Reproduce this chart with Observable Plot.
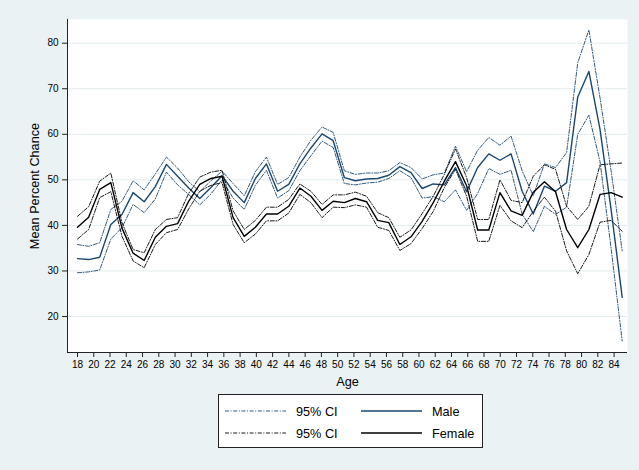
<!DOCTYPE html>
<html><head><meta charset="utf-8">
<script src="https://cdn.jsdelivr.net/npm/d3@7"></script>
<script src="https://cdn.jsdelivr.net/npm/@observablehq/plot@0.6"></script>
<style>
body{margin:0;background:#eaf2f3;font-family:"Liberation Sans",Arial,sans-serif;}
#wrap{position:relative;width:639px;height:470px;overflow:hidden;}
#chart{position:absolute;left:0;top:0;}
#legend{position:absolute;left:218px;top:394px;width:265px;height:54px;background:#fff;border:1px solid #222;box-sizing:border-box;}
</style></head><body><div id="wrap"><div id="chart"></div><div id="legend"></div></div>
<script>
const ages = [18, 19.37, 20.73, 22.1, 23.47, 24.84, 26.2, 27.57, 28.94, 30.31,
  31.67, 33.04, 34.41, 35.78, 37.14, 38.51, 39.88, 41.24, 42.61, 43.98,
  45.35, 46.71, 48.08, 49.45, 50.82, 52.18, 53.55, 54.92, 56.29, 57.65,
  59.02, 60.39, 61.76, 63.12, 64.49, 65.86, 67.22, 68.59, 69.96, 71.33,
  72.69, 74.06, 75.43, 76.8, 78.16, 79.53, 80.9, 82.27, 83.63, 85];

const female = [39.6, 41.8, 47.9, 49.4, 39.4, 33.9, 32.3, 37.4, 39.8, 40.4,
  45.3, 49.0, 50.3, 50.8, 41.7, 37.6, 39.6, 42.5, 42.5, 44.2,
  48.2, 46.4, 43.3, 45.3, 45.0, 45.9, 45.2, 41.1, 40.6, 35.8,
  37.5, 40.9, 45.0, 49.7, 54.0, 48.7, 39.0, 39.0, 47.2, 43.2,
  42.2, 47.3, 49.6, 47.4, 39.1, 35.1, 39.1, 46.8, 47.2, 46.2];
const femaleHi = [42.0, 44.1, 49.7, 51.5, 40.6, 34.7, 34.0, 39.1, 41.3, 41.7,
  47.0, 50.6, 51.7, 52.1, 43.2, 39.1, 41.1, 44.0, 44.0, 45.7,
  49.1, 47.5, 44.6, 46.7, 46.7, 47.3, 46.4, 42.8, 41.7, 37.4,
  39.0, 42.6, 46.4, 51.2, 56.8, 50.5, 41.3, 41.3, 50.0, 45.5,
  45.0, 50.8, 53.3, 52.3, 44.2, 41.3, 44.2, 53.3, 53.5, 53.7];
const femaleLo = [37.0, 39.1, 46.1, 47.4, 37.6, 32.2, 30.7, 35.8, 38.4, 39.1,
  43.6, 47.5, 48.8, 49.4, 40.2, 36.2, 38.1, 41.0, 41.0, 42.7,
  46.8, 45.0, 41.7, 44.0, 43.9, 44.5, 44.0, 39.6, 38.9, 34.5,
  36.0, 39.3, 43.1, 48.3, 52.3, 46.4, 36.5, 36.5, 44.4, 41.0,
  39.5, 43.1, 46.2, 43.1, 34.4, 29.4, 33.6, 40.7, 41.1, 38.7];

const male = [32.7, 32.5, 33.0, 40.2, 42.4, 47.2, 45.2, 48.5, 53.4, 50.8,
  48.2, 45.9, 48.3, 50.9, 47.5, 45.0, 50.3, 53.5, 47.5, 49.0,
  53.5, 57.0, 60.1, 58.6, 50.5, 49.8, 50.2, 50.3, 51.0, 52.9,
  51.6, 48.1, 49.1, 48.9, 52.7, 47.4, 52.7, 55.7, 54.3, 55.7,
  47.5, 42.5, 48.6, 47.5, 49.4, 68.2, 73.8, 61.1, 43.5, 24.2];
const maleHi = [35.8, 35.4, 36.2, 43.5, 45.3, 49.8, 47.8, 51.3, 55.0, 52.6,
  49.6, 47.4, 49.8, 51.9, 49.2, 46.5, 51.8, 55.0, 49.0, 50.5,
  55.0, 58.7, 61.6, 60.4, 52.0, 51.2, 51.5, 51.5, 52.0, 53.8,
  52.7, 50.2, 51.1, 51.5, 57.4, 51.8, 56.5, 59.3, 57.6, 59.6,
  52.0, 46.5, 53.5, 52.7, 56.0, 75.7, 82.9, 68.0, 52.0, 34.4];
const maleLo = [29.6, 29.8, 30.2, 37.0, 39.5, 44.6, 42.8, 45.8, 51.7, 48.9,
  46.8, 44.5, 46.9, 50.0, 46.0, 43.5, 48.8, 52.1, 46.0, 47.6,
  52.0, 55.3, 58.5, 57.1, 49.2, 48.9, 49.3, 49.5, 50.3, 52.0,
  50.5, 46.0, 46.3, 45.2, 47.8, 43.3, 47.0, 52.5, 51.2, 52.1,
  42.5, 38.6, 44.2, 42.4, 44.0, 60.0, 64.2, 54.0, 35.0, 14.6];

const xTicks = [18,20,22,24,26,28,30,32,34,36,38,40,42,44,46,48,50,52,54,56,58,60,62,64,66,68,70,72,74,76,78,80,82,84];
const yTicks = [20,30,40,50,60,70,80];
const legendLabels = ["95% CI", "Male", "95% CI", "Female"];

const BLUE = "#1a476f";
const DASH = "4,1.6,1,1.6";
const rows = vals => ages.map((a, i) => ({age: a, value: vals[i]}));
const xDomain = [16.77, 85.65];
const yDomain = [12.1, 85.2];

const chart = Plot.plot({
  width: 639, height: 390,
  marginLeft: 67, marginRight: 12, marginTop: 19, marginBottom: 38,
  style: {fontFamily: '"Liberation Sans", Arial, sans-serif', fontSize: "10px", background: "transparent", color: "#000"},
  x: {domain: xDomain},
  y: {domain: yDomain},
  marks: [
    Plot.frame({fill: "white", stroke: "none"}),
    Plot.gridY(yTicks, {stroke: "#e3ecee", strokeOpacity: 1, strokeWidth: 1}),
    Plot.line(rows(maleHi), {x: "age", y: "value", stroke: BLUE, strokeWidth: 0.9, strokeDasharray: DASH}),
    Plot.line(rows(maleLo), {x: "age", y: "value", stroke: BLUE, strokeWidth: 0.9, strokeDasharray: DASH}),
    Plot.line(rows(male), {x: "age", y: "value", stroke: BLUE, strokeWidth: 1.4}),
    Plot.line(rows(femaleHi), {x: "age", y: "value", stroke: "#000", strokeWidth: 0.9, strokeDasharray: DASH}),
    Plot.line(rows(femaleLo), {x: "age", y: "value", stroke: "#000", strokeWidth: 0.9, strokeDasharray: DASH}),
    Plot.line(rows(female), {x: "age", y: "value", stroke: "#000", strokeWidth: 1.4}),
    Plot.ruleX([xDomain[0]], {stroke: "#222", strokeWidth: 1}),
    Plot.ruleY([yDomain[0]], {stroke: "#222", strokeWidth: 1}),
    Plot.axisY(yTicks, {tickSize: 5, tickPadding: 4, label: null, stroke: "#222"}),
    Plot.axisX(xTicks, {tickSize: 5, tickPadding: 3, label: null, stroke: "#222"}),
    Plot.text(["Mean Percent Chance"], {text: d => d, frameAnchor: "left", textAnchor: "middle", dx: -33, rotate: -90, fontSize: 12.7}),
    Plot.text(["Age"], {text: d => d, frameAnchor: "bottom", textAnchor: "middle", dy: 33, fontSize: 12.7})
  ]
});
document.getElementById("chart").appendChild(chart);

// legend
const svg = d3.select("#legend").append("svg").attr("width", 263).attr("height", 52)
  .style("font-family", '"Liberation Sans", Arial, sans-serif').style("font-size", "12.7px");
const items = [
  {x: 6, y: 16, color: BLUE, dash: DASH, w: 0.9, label: legendLabels[0]},
  {x: 142, y: 16, color: BLUE, dash: null, w: 1.4, label: legendLabels[1]},
  {x: 6, y: 38, color: "#000", dash: DASH, w: 0.9, label: legendLabels[2]},
  {x: 142, y: 38, color: "#000", dash: null, w: 1.4, label: legendLabels[3]}
];
for (const it of items) {
  const l = svg.append("line").attr("x1", it.x).attr("x2", it.x + 61).attr("y1", it.y).attr("y2", it.y)
    .attr("stroke", it.color).attr("stroke-width", it.w);
  if (it.dash) l.attr("stroke-dasharray", it.dash);
  svg.append("text").attr("x", it.x + 71).attr("y", it.y).attr("dy", "0.36em").text(it.label);
}
</script></body></html>
